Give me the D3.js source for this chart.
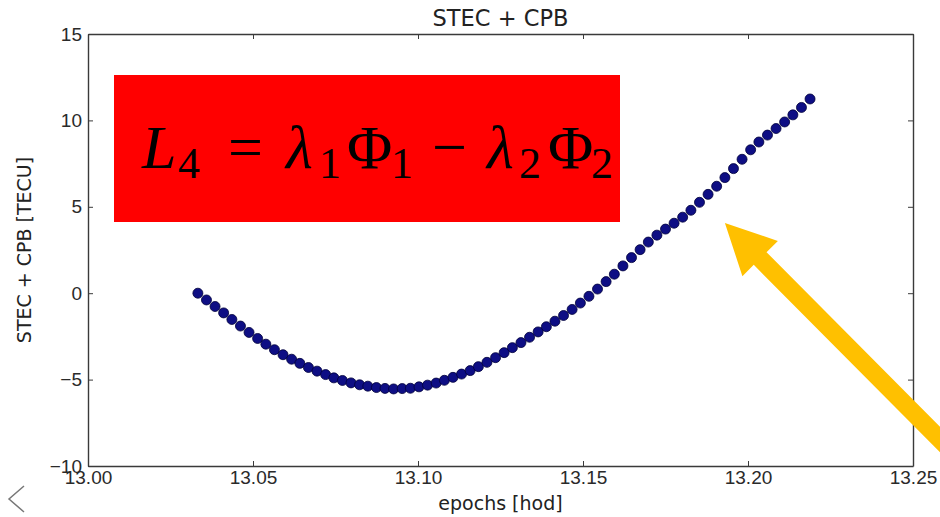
<!DOCTYPE html>
<html>
<head>
<meta charset="utf-8">
<title>STEC + CPB</title>
<style>
body { margin: 0; background: #fff; }
svg { display: block; font-family: "DejaVu Sans", sans-serif; }
.axis path, .axis line { stroke: #3a3a3a; }
.axis text { fill: #2a2a2a; font-size: 19px; }
</style>
</head>
<body>
<svg width="940" height="517"></svg>
<script src="https://d3js.org/d3.v7.min.js"></script>
<script>
// epochs [hod]
var epochs = [13.0333, 13.0359, 13.0385, 13.0411, 13.0436, 13.0462, 13.0488, 13.0514, 13.0539, 13.0565,
  13.0591, 13.0617, 13.0642, 13.0668, 13.0694, 13.0720, 13.0745, 13.0771, 13.0797, 13.0823,
  13.0848, 13.0874, 13.0900, 13.0926, 13.0952, 13.0977, 13.1003, 13.1029, 13.1055, 13.1080,
  13.1106, 13.1132, 13.1158, 13.1183, 13.1209, 13.1235, 13.1261, 13.1286, 13.1312, 13.1338,
  13.1364, 13.1389, 13.1415, 13.1441, 13.1467, 13.1492, 13.1518, 13.1544, 13.1570, 13.1595,
  13.1621, 13.1647, 13.1673, 13.1698, 13.1724, 13.1750, 13.1776, 13.1802, 13.1827, 13.1853,
  13.1879, 13.1905, 13.1930, 13.1956, 13.1982, 13.2008, 13.2033, 13.2059, 13.2085, 13.2111,
  13.2136, 13.2162, 13.2188];

// STEC + CPB [TECU]
var stec = [0.00, -0.39, -0.77, -1.14, -1.52, -1.90, -2.27, -2.62, -2.95, -3.27,
  -3.56, -3.82, -4.06, -4.30, -4.51, -4.71, -4.90, -5.05, -5.19, -5.30,
  -5.38, -5.46, -5.51, -5.54, -5.52, -5.50, -5.42, -5.32, -5.20, -5.04,
  -4.87, -4.68, -4.48, -4.25, -4.00, -3.73, -3.44, -3.15, -2.86, -2.55,
  -2.24, -1.94, -1.62, -1.29, -0.94, -0.57, -0.18, 0.24, 0.67, 1.10,
  1.58, 2.06, 2.52, 2.96, 3.36, 3.71, 4.05, 4.40, 4.80, 5.26,
  5.72, 6.19, 6.69, 7.21, 7.75, 8.30, 8.75, 9.15, 9.53, 9.91,
  10.32, 10.75, 11.24];

var xTicks = [13.00, 13.05, 13.10, 13.15, 13.20, 13.25];
var yTicks = [-10, -5, 0, 5, 10, 15];

// annotation arrow, in data units (tail sits off the right edge)
var arrowTail = [13.262, -9.2];
var arrowTip = [13.1930, 4.06];

var svg = d3.select("svg");
var margin = {top: 34, right: 27, bottom: 51, left: 88},
    width = 940 - margin.left - margin.right,
    height = 517 - margin.top - margin.bottom;

var x = d3.scaleLinear().domain([13.00, 13.25]).range([margin.left, margin.left + width]);
var y = d3.scaleLinear().domain([-10, 15]).range([margin.top + height, margin.top]);

var data = epochs.map(function(t, i) { return {t: t, v: stec[i]}; });

// axes, ticks pointing inward on all four sides
svg.append("g").attr("class", "axis")
    .attr("transform", "translate(0," + (margin.top + height) + ")")
    .call(d3.axisBottom(x).tickValues(xTicks).tickFormat(d3.format(".2f")).tickSizeInner(-5).tickSizeOuter(0).tickPadding(5));
svg.append("g").attr("class", "axis")
    .attr("transform", "translate(0," + margin.top + ")")
    .call(d3.axisTop(x).tickValues(xTicks).tickFormat("").tickSizeInner(-5).tickSizeOuter(0));
svg.append("g").attr("class", "axis")
    .attr("transform", "translate(" + margin.left + ",0)")
    .call(d3.axisLeft(y).tickValues(yTicks).tickFormat(d3.format("d")).tickSizeInner(-5).tickSizeOuter(0).tickPadding(6));
svg.append("g").attr("class", "axis")
    .attr("transform", "translate(" + (margin.left + width) + ",0)")
    .call(d3.axisRight(y).tickValues(yTicks).tickFormat("").tickSizeInner(-5).tickSizeOuter(0));

svg.selectAll(".axis path").attr("stroke-width", 1.4);

// points
svg.append("g").selectAll("circle")
    .data(data)
  .enter().append("circle")
    .attr("cx", function(d) { return x(d.t); })
    .attr("cy", function(d) { return y(d.v); })
    .attr("r", 5)
    .attr("fill", "#0e0e84")
    .attr("stroke", "#00003a")
    .attr("stroke-width", 0.8);

// titles
svg.append("text")
    .attr("x", margin.left + width / 2).attr("y", 26)
    .attr("text-anchor", "middle").attr("font-size", 22.5).attr("fill", "#222")
    .text("STEC + CPB");
svg.append("text")
    .attr("x", margin.left + width / 2).attr("y", 510)
    .attr("text-anchor", "middle").attr("font-size", 19).attr("fill", "#222")
    .text("epochs [hod]");
svg.append("text")
    .attr("transform", "translate(31," + (margin.top + height / 2) + ") rotate(-90)")
    .attr("text-anchor", "middle").attr("font-size", 19).attr("fill", "#222")
    .text("STEC + CPB [TECU]");

// red formula box
svg.append("rect")
    .attr("x", 114).attr("y", 75).attr("width", 506).attr("height", 147)
    .attr("fill", "#ff0000");

var f = svg.append("text")
    .attr("font-family", "'Liberation Serif', 'DejaVu Serif', serif")
    .attr("fill", "#000");
var glyphs = [
  {s: "L", x: 142, y: 168, size: 62, it: true},
  {s: "4", x: 178, y: 178, size: 44},
  {s: "=", x: 228, y: 168, size: 62},
  {s: "λ", x: 286, y: 168, size: 62, it: true},
  {s: "1", x: 319, y: 178, size: 44},
  {s: "Φ", x: 347, y: 168, size: 62},
  {s: "1", x: 391, y: 178, size: 44},
  {s: "−", x: 432, y: 168, size: 62},
  {s: "λ", x: 487, y: 168, size: 62, it: true},
  {s: "2", x: 519, y: 178, size: 44},
  {s: "Φ", x: 548, y: 168, size: 62},
  {s: "2", x: 591, y: 178, size: 44}
];
glyphs.forEach(function(g) {
  f.append("tspan")
    .attr("x", g.x).attr("y", g.y)
    .attr("font-size", g.size)
    .attr("font-style", g.it ? "italic" : "normal")
    .text(g.s);
});

// orange arrow
var tip = [x(arrowTip[0]), y(arrowTip[1])],
    tail = [x(arrowTail[0]), y(arrowTail[1])];
var dx = tail[0] - tip[0], dy = tail[1] - tip[1], len = Math.sqrt(dx * dx + dy * dy);
var ux = dx / len, uy = dy / len, px = -uy, py = ux;
var headLen = 50, headHalf = 25, shaftHalf = 9;
var b = [tip[0] + ux * headLen, tip[1] + uy * headLen];
var pts = [
  tip,
  [b[0] + px * headHalf, b[1] + py * headHalf],
  [b[0] + px * shaftHalf, b[1] + py * shaftHalf],
  [tail[0] + px * shaftHalf, tail[1] + py * shaftHalf],
  [tail[0] - px * shaftHalf, tail[1] - py * shaftHalf],
  [b[0] - px * shaftHalf, b[1] - py * shaftHalf],
  [b[0] - px * headHalf, b[1] - py * headHalf]
];
svg.append("path")
    .attr("d", d3.line()(pts) + "Z")
    .attr("fill", "#ffc000");

// slide navigation chevron
svg.append("path")
    .attr("d", "M24,486 L9,499 L24,512")
    .attr("fill", "none").attr("stroke", "#777").attr("stroke-width", 1.5);
</script>
</body>
</html>
